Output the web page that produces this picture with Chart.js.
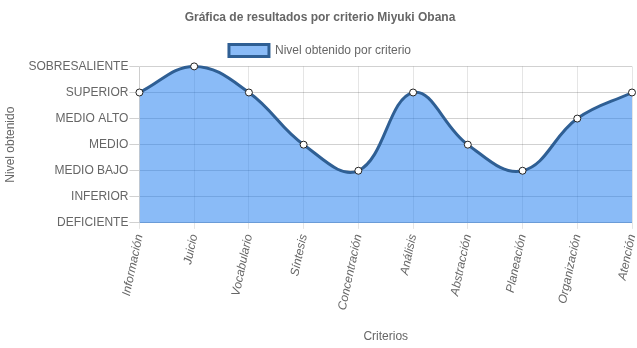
<!DOCTYPE html>
<html>
<head>
<meta charset="utf-8">
<script src="https://cdn.jsdelivr.net/npm/chart.js@4.4.1/dist/chart.umd.min.js"></script>
<style>
  html, body { margin: 0; padding: 0; background: #fff; }
  #wrap { width: 637px; height: 348px; }
</style>
</head>
<body>
<div id="wrap"><canvas id="grafica"></canvas></div>
<script>
// criterios evaluados
const criterios = ['Información', 'Juicio', 'Vocabulario', 'Síntesis', 'Concentración',
  'Análisis', 'Abstracción', 'Planeación', 'Organización', 'Atención'];
// niveles (0 = DEFICIENTE ... 6 = SOBRESALIENTE)
const niveles = ['DEFICIENTE', 'INFERIOR', 'MEDIO BAJO', 'MEDIO', 'MEDIO ALTO', 'SUPERIOR', 'SOBRESALIENTE'];
const resultados = [5, 6, 5, 3, 2, 5, 3, 2, 4, 5];

Chart.defaults.font.family = "'Liberation Sans', Arial, sans-serif";
Chart.defaults.color = '#666';

new Chart(document.getElementById('grafica'), {
  type: 'line',
  data: {
    labels: criterios,
    datasets: [{
      label: 'Nivel obtenido por criterio',
      data: resultados,
      fill: true,
      backgroundColor: 'rgba(30, 125, 240, 0.52)',
      borderColor: '#2f5f94',
      borderWidth: 3,
      tension: 0.4,
      clip: false,
      pointRadius: 3.5,
      pointBackgroundColor: '#fff',
      pointBorderColor: '#222',
      pointBorderWidth: 1
    }]
  },
  options: {
    responsive: true,
    maintainAspectRatio: false,
    animation: false,
    layout: { padding: { left: 0, right: -3, top: 0, bottom: 0 } },
    plugins: {
      title: {
        display: true,
        text: 'Gráfica de resultados por criterio Miyuki Obana',
        font: { size: 12, weight: 'bold' },
        padding: { top: 10, bottom: 10 }
      },
      legend: {
        labels: { boxWidth: 40, boxHeight: 12, font: { size: 12 }, padding: 10 }
      },
      tooltip: { enabled: false }
    },
    scales: {
      x: {
        grid: { color: 'rgba(0,0,0,0.1)', tickLength: 6 },
        ticks: { minRotation: 78, maxRotation: 78, font: { size: 12, style: 'italic' }, padding: 4 },
        title: { display: true, text: 'Criterios', font: { size: 12 }, padding: { top: 14 } },
        afterFit: (scale) => { scale.paddingRight = 0; }
      },
      y: {
        min: 0,
        max: 6,
        grid: { color: 'rgba(0,0,0,0.18)', tickLength: 10 },
        ticks: {
          stepSize: 1,
          font: { size: 12 },
          padding: 1,
          callback: (v) => niveles[v]
        },
        title: { display: true, text: 'Nivel obtenido', font: { size: 12 }, padding: { top: 3, bottom: 10 } }
      }
    }
  }
});
</script>
</body>
</html>
